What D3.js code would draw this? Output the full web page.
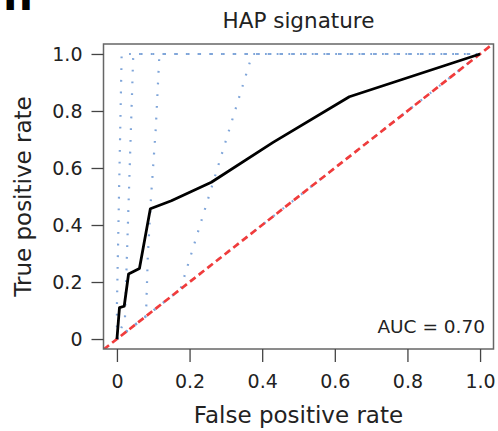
<!DOCTYPE html>
<html>
<head>
<meta charset="utf-8">
<script src="https://cdn.jsdelivr.net/npm/d3@7"></script>
<style>
  html, body { margin: 0; padding: 0; background: #fff; }
  svg { display: block; font-family: "DejaVu Sans", sans-serif; }
</style>
</head>
<body>
<svg id="chart" width="498" height="431"></svg>
<script>
// ---- data ----
const title = "HAP signature";
const xLabel = "False positive rate";
const yLabel = "True positive rate";
const aucText = "AUC = 0.70";
const panelLetter = "h";
const tickValues = [0, 0.2, 0.4, 0.6, 0.8, 1.0];
const tickLabels = ["0", "0.2", "0.4", "0.6", "0.8", "1.0"];

// main ROC curve (FPR, TPR)
const rocFpr = [0, 0.007, 0.02, 0.032, 0.062, 0.092, 0.15, 0.26, 0.43, 0.64, 1.0];
const rocTpr = [0, 0.11, 0.115, 0.228, 0.247, 0.457, 0.485, 0.55, 0.69, 0.85, 1.0];

// dotted reference curves (FPR, TPR)
const refA_Fpr = [0, 0.0, 0.013, 1.0];
const refA_Tpr = [0, 0.12, 1.0, 1.0];
const refB_Fpr = [0, 0.022, 0.045, 1.0];
const refB_Tpr = [0, 0.07, 1.0, 1.0];
const refC_Fpr = [0, 0.08, 0.085, 0.094, 0.107, 0.117, 1.0];
const refC_Tpr = [0, 0.08, 0.29, 0.5, 0.74, 1.0, 1.0];
const refD_Fpr = [0, 0.175, 0.373, 1.0];
const refD_Tpr = [0, 0.175, 1.0, 1.0];
const refDiagFpr = [0, 1];
const refDiagTpr = [0, 1];

// ---- layout ----
const svg = d3.select("#chart");
const box = { left: 103.5, right: 493.5, top: 44, bottom: 349 };
const x = d3.scaleLinear().domain([-0.037, 1.037]).range([box.left, box.right]);
const y = d3.scaleLinear().domain([-0.035, 1.035]).range([box.bottom, box.top]);

svg.append("defs").append("clipPath").attr("id", "clip")
  .append("rect").attr("x", box.left).attr("y", box.top)
  .attr("width", box.right - box.left).attr("height", box.bottom - box.top);

const line = d3.line().x(d => x(d[0])).y(d => y(d[1]));
const zip = (a, b) => a.map((v, i) => [v, b[i]]);

const plot = svg.append("g").attr("clip-path", "url(#clip)");

// dotted blue curves
const refs = [
  zip(refDiagFpr, refDiagTpr),
  zip(refA_Fpr, refA_Tpr),
  zip(refB_Fpr, refB_Tpr),
  zip(refC_Fpr, refC_Tpr),
  zip(refD_Fpr, refD_Tpr)
];
refs.forEach(r => {
  plot.append("path").attr("d", line(r))
    .attr("fill", "none").attr("stroke", "#7fa5d9")
    .attr("stroke-width", 2.2).attr("stroke-dasharray", "1.8,9.9");
});

// red dashed diagonal (abline y = x across the box)
const dom = x.domain();
plot.append("path").attr("d", line([[dom[0], dom[0]], [dom[1], dom[1]]]))
  .attr("fill", "none").attr("stroke", "#f03c3c")
  .attr("stroke-width", 2.7).attr("stroke-dasharray", "7,4");

// main ROC curve
plot.append("path").attr("d", line(zip(rocFpr, rocTpr)))
  .attr("fill", "none").attr("stroke", "#000")
  .attr("stroke-width", 2.8).attr("stroke-linejoin", "round");

// box
svg.append("rect").attr("x", box.left).attr("y", box.top)
  .attr("width", box.right - box.left).attr("height", box.bottom - box.top)
  .attr("fill", "none").attr("stroke", "#666").attr("stroke-width", 1.5);

// axes
const xAxis = d3.axisBottom(x).tickValues(tickValues)
  .tickFormat((d, i) => tickLabels[i]).tickSize(13).tickPadding(13);
const gx = svg.append("g").attr("transform", `translate(0,${box.bottom})`).call(xAxis);
const yAxis = d3.axisLeft(y).tickValues(tickValues)
  .tickFormat((d, i) => tickLabels[i]).tickSize(12).tickPadding(9);
const gy = svg.append("g").attr("transform", `translate(${box.left},0)`).call(yAxis);
[gx, gy].forEach(g => {
  g.select(".domain").remove();
  g.selectAll(".tick line").attr("stroke", "#444").attr("stroke-width", 1.3);
  g.selectAll(".tick text").attr("fill", "#222")
    .style("font-family", "DejaVu Sans").style("font-size", "19px");
});

// titles
const cx = (box.left + box.right) / 2;
const cy = (box.top + box.bottom) / 2;
svg.append("text").attr("x", cx).attr("y", 28).attr("text-anchor", "middle")
  .attr("fill", "#222").style("font-size", "21.5px").text(title);
svg.append("text").attr("x", cx).attr("y", 423).attr("text-anchor", "middle")
  .attr("fill", "#222").style("font-size", "23px").text(xLabel);
svg.append("text").attr("transform", `translate(31,${cy}) rotate(-90)`)
  .attr("text-anchor", "middle").attr("fill", "#222")
  .style("font-size", "23px").text(yLabel);
svg.append("text").attr("x", 485).attr("y", 333).attr("text-anchor", "end")
  .attr("fill", "#222").style("font-size", "18.5px").text(aucText);

// cropped panel letter (reference shows only its bottom edge)
svg.append("text").attr("x", 3).attr("y", 10)
  .attr("fill", "#000").style("font-size", "42px").style("font-weight", "bold").text(panelLetter);
</script>
</body>
</html>
